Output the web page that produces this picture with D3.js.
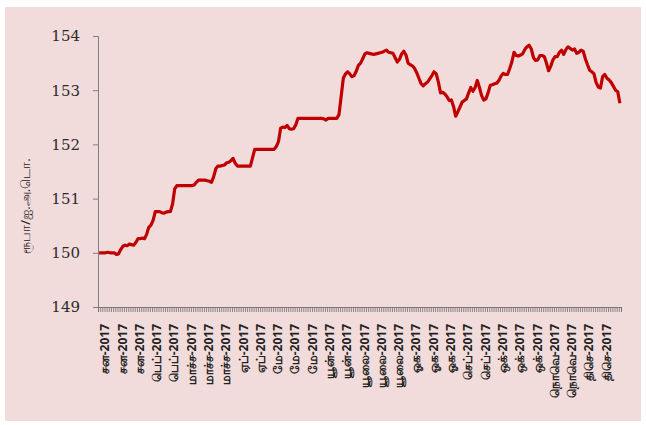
<!DOCTYPE html>
<html>
<head>
<meta charset="utf-8">
<script src="https://cdn.jsdelivr.net/npm/d3@7"></script>
<style>
  body { margin: 0; background: #ffffff; }
  .ylab text { font-family: "DejaVu Serif", serif; font-size: 15px; fill: #2b2b2b; }
  .xlab text { font-family: "Noto Sans", "DejaVu Sans", sans-serif; font-size: 12px; font-weight: bold; fill: #222; }
</style>
</head>
<body>
<div id="chart"></div>
<script>

// daily exchange rate values (one per trading day)
var values = [
  150.00, 150.00, 150.00, 150.00, 150.01, 150.00, 150.00, 150.00, 149.97, 149.98,
  150.06, 150.12, 150.14, 150.13, 150.16, 150.15, 150.14, 150.19, 150.26, 150.26,
  150.27, 150.26, 150.34, 150.47, 150.51, 150.60, 150.76, 150.76, 150.76, 150.74,
  150.73, 150.75, 150.76, 150.76, 150.90, 151.18, 151.24, 151.24, 151.24, 151.24,
  151.24, 151.24, 151.24, 151.24, 151.25, 151.30, 151.34, 151.34, 151.34, 151.34,
  151.33, 151.32, 151.30, 151.40, 151.55, 151.60, 151.60, 151.61, 151.62, 151.66,
  151.67, 151.70, 151.74, 151.65, 151.60, 151.60, 151.60, 151.60, 151.60, 151.60,
  151.60, 151.75, 151.91, 151.91, 151.91, 151.91, 151.91, 151.91, 151.91, 151.91,
  151.91, 151.91, 151.96, 152.05, 152.30, 152.32, 152.31, 152.35, 152.29, 152.28,
  152.29, 152.36, 152.48, 152.48, 152.48, 152.48, 152.48, 152.48, 152.48, 152.48,
  152.48, 152.48, 152.48, 152.48, 152.47, 152.45, 152.48, 152.48, 152.48, 152.48,
  152.48, 152.55, 152.88, 153.22, 153.30, 153.34, 153.30, 153.25, 153.27, 153.35,
  153.46, 153.50, 153.58, 153.67, 153.69, 153.68, 153.67, 153.66, 153.67, 153.68,
  153.69, 153.70, 153.72, 153.74, 153.70, 153.69, 153.68, 153.60, 153.52, 153.57,
  153.67, 153.72, 153.65, 153.50, 153.47, 153.45, 153.40, 153.32, 153.22, 153.12,
  153.08, 153.12, 153.15, 153.21, 153.27, 153.34, 153.30, 153.15, 152.95, 152.96,
  152.93, 152.88, 152.81, 152.82, 152.70, 152.52, 152.60, 152.69, 152.78, 152.81,
  152.84, 152.95, 153.05, 152.98, 153.05, 153.18, 153.05, 152.90, 152.82, 152.84,
  152.95, 153.09, 153.10, 153.12, 153.13, 153.18, 153.26, 153.31, 153.29, 153.29,
  153.40, 153.52, 153.70, 153.64, 153.63, 153.65, 153.67, 153.75, 153.80, 153.83,
  153.76, 153.60, 153.55, 153.56, 153.64, 153.64, 153.62, 153.50, 153.36, 153.44,
  153.56, 153.62, 153.62, 153.70, 153.74, 153.66, 153.75, 153.80, 153.77, 153.74,
  153.76, 153.68, 153.70, 153.74, 153.72, 153.58, 153.47, 153.37, 153.34, 153.30,
  153.14, 153.06, 153.04, 153.25, 153.29, 153.22, 153.19, 153.14, 153.07, 153.00,
  152.97, 152.76
];

// category labels, one every 8 trading days
var monthLabels = [
  "சன-2017", "சன-2017", "சன-2017", "பெப்-2017", "பெப்-2017",
  "மாச்ச-2017", "மாச்ச-2017", "மாச்ச-2017", "ஏப்-2017", "ஏப்-2017",
  "மே-2017", "மே-2017", "மே-2017", "யூன்-2017", "யூன்-2017",
  "யூலை-2017", "யூலை-2017", "யூலை-2017", "ஓக-2017", "ஓக-2017",
  "ஓக-2017", "செப்-2017", "செப்-2017", "ஒக்-2017", "ஒக்-2017",
  "ஒக்-2017", "நொவெ-2017", "நொவெ-2017", "திசெ-2017", "திசெ-2017"
];
var labelStep = 8;

var yTicks = [149, 150, 151, 152, 153, 154];
var yTitle = "ரூபா/ஐ.அ.டொ.";

var W = 646, H = 425;
var margin = {top: 36, right: 25, bottom: 118, left: 98},
    width = W - margin.left - margin.right,
    height = H - margin.top - margin.bottom;

var svg = d3.select("#chart")
  .append("svg")
    .attr("width", W)
    .attr("height", H);

// pink panel
svg.append("rect")
  .attr("x", 5)
  .attr("y", 7)
  .attr("width", 636)
  .attr("height", 414)
  .attr("fill", "#f2dcdb");

var g = svg.append("g")
  .attr("transform", "translate(" + margin.left + "," + margin.top + ")");

var n = values.length;
var x = d3.scaleLinear().domain([0, n]).range([0, width]);
var y = d3.scaleLinear().domain([149, 154]).range([height, 0]);

// y axis
var yAxis = g.append("g")
  .attr("class", "ylab")
  .call(d3.axisLeft(y).tickValues(yTicks).tickFormat(d3.format("d")).tickSize(5).tickPadding(13));
yAxis.selectAll("line").attr("stroke", "#7f7f7f");
yAxis.select(".domain").attr("stroke", "#7f7f7f");

// x axis: a tick at every category boundary
var xAxis = g.append("g")
  .attr("transform", "translate(0," + height + ")")
  .call(d3.axisBottom(x).tickValues(d3.range(n + 1)).tickFormat("").tickSize(5));
xAxis.selectAll("line").attr("stroke", "#6f6f6f").attr("stroke-width", 0.8);
xAxis.select(".domain").attr("stroke", "#7f7f7f");

// rotated month labels
var labelIdx = monthLabels.map(function(d, i) { return i * labelStep; });
var xl = g.append("g")
  .attr("class", "xlab")
  .attr("transform", "translate(0," + height + ")");
xl.selectAll("text")
  .data(labelIdx)
  .enter()
  .append("text")
    .attr("transform", function(d) { return "translate(" + (x(d + 0.5) + 6) + ",17) rotate(-90)"; })
    .attr("dy", "0.35em")
    .style("text-anchor", "end")
    .text(function(d, i) { return monthLabels[i]; });

// the line
g.append("path")
  .datum(values)
  .attr("fill", "none")
  .attr("stroke", "#c00000")
  .attr("stroke-width", 3.2)
  .attr("stroke-linejoin", "round")
  .attr("d", d3.line()
    .x(function(d, i) { return x(i + 0.5); })
    .y(function(d) { return y(d); }));

// y axis title
svg.append("text")
  .attr("transform", "translate(25,206) rotate(-90)")
  .attr("dy", "0.35em")
  .style("text-anchor", "middle")
  .style("font-family", "'Noto Sans', 'DejaVu Sans', sans-serif")
  .style("font-size", "13px")
  .style("fill", "#222")
  .text(yTitle);

</script>
</body>
</html>
